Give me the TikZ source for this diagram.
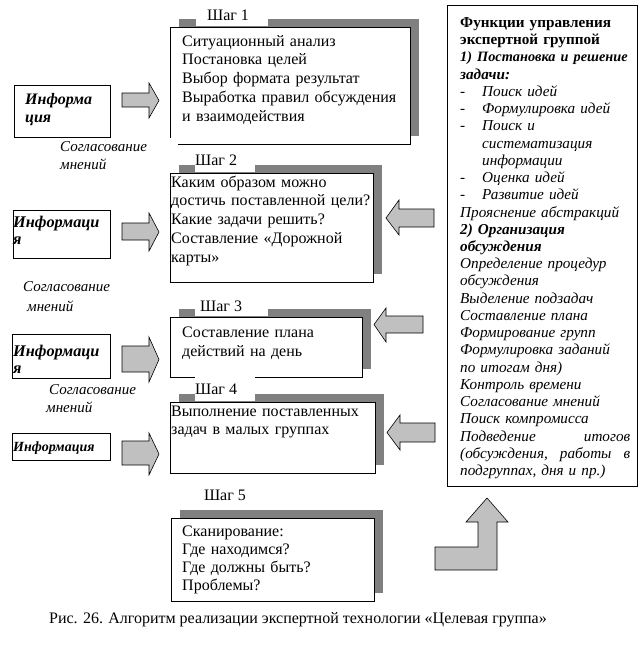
\documentclass[tikz,border=0pt]{standalone}
\usepackage{fontspec}
\setmainfont{Liberation Serif}
\usetikzlibrary{shadows}
\definecolor{shadowgray}{HTML}{808080}
\definecolor{arrowgray}{HTML}{C0C0C0}
\newcommand{\dashitem}[1]{\makebox[22pt][l]{-}#1}
\begin{document}
\begin{tikzpicture}[x=1pt,y=-1pt,
  stepframe/.style={draw=black, line width=0.9pt, fill=white, inner sep=0pt, anchor=north west,
    drop shadow={shadow xshift=8.5pt, shadow yshift=8pt, fill=shadowgray, opacity=1}},
  plainframe/.style={draw=black, line width=0.9pt, fill=white, inner sep=0pt, anchor=north west},
  boxtext/.style={anchor=base west, inner sep=0pt, align=left, text width=260pt, font=\fontsize{16}{18.75}\selectfont},
  infotext/.style={anchor=base west, inner sep=0pt, align=left, text width=100pt, font=\fontsize{16}{18}\selectfont\bfseries\itshape},
  agree/.style={anchor=base west, inner sep=0pt, align=left, text width=110pt, font=\fontsize{15}{18}\selectfont\itshape},
  steplabel/.style={fill=white, inner sep=0pt, anchor=south west, font=\fontsize{16}{18}\selectfont},
  paneltext/.style={anchor=base west, inner sep=0pt, align=left, text width=200pt, font=\fontsize{15.2}{17.23}\selectfont},
  blockarrow/.style={draw=black, line width=0.6pt, fill=arrowgray}
]
\useasboundingbox (0,0) rectangle (642,645);

% step frames
\node[stepframe, minimum width=240, minimum height=117] (s1) at (170,27) {};
\node[stepframe, minimum width=203, minimum height=109] (s2) at (170,173) {};
\node[stepframe, minimum width=192, minimum height=60] (s3) at (170,317) {};
\node[stepframe, minimum width=205, minimum height=71] (s4) at (170,402) {};
\node[stepframe, minimum width=203, minimum height=83] (s5) at (171,518) {};

% step labels
\node[steplabel, minimum width=72, minimum height=22] (l1) at (196,26.5) {\makebox[72pt][l]{\hspace{11pt}Шаг 1}};
\node[steplabel, minimum width=60, minimum height=24] (l2) at (195,172.5) {\makebox[60pt][l]{Шаг 2}};
\node[steplabel, minimum width=73, minimum height=20] (l3) at (195,316.5) {\makebox[73pt][l]{\hspace{5pt}Шаг 3}};
\node[steplabel, minimum width=60, minimum height=24] (l4) at (195,401.5) {\makebox[60pt][l]{Шаг 4}};
\node[steplabel, fill=none, anchor=center] (l5) at (225,495) {Шаг 5};

% step texts
\node[boxtext] (t1) at (182,46) {Ситуационный анализ\\Постановка целей\\Выбор формата результат\\Выработка правил обсуждения\\и взаимодействия};
\node[boxtext] (t2) at (171,187) {Каким образом можно\\достичь поставленной цели?\\Какие задачи решить?\\Составление «Дорожной\\карты»};
\node[boxtext, font=\fontsize{16}{19.5}\selectfont] (t3) at (182,337) {Составление плана\\действий на день};
\node[boxtext, font=\fontsize{16}{18}\selectfont] (t4) at (171,416) {Выполнение поставленных\\задач в малых группах};
\node[boxtext, font=\fontsize{16}{18.3}\selectfont] (t5) at (182,536) {Сканирование:\\Где находимся?\\Где должны быть?\\Проблемы?};

% information boxes
\node[plainframe, minimum width=96, minimum height=52] (i1) at (14,85) {};
\node[plainframe, minimum width=97, minimum height=48] (i2) at (13,210) {};
\node[plainframe, minimum width=98, minimum height=44] (i3) at (12,334) {};
\node[plainframe, minimum width=98, minimum height=27] (i4) at (12,433) {};
\node[infotext] (it1) at (25,104) {Информа\\ция};
\node[infotext, font=\fontsize{16.3}{17}\selectfont\bfseries\itshape] (it2) at (13,227) {Информаци\\я};
\node[infotext, font=\fontsize{16.3}{17}\selectfont\bfseries\itshape] (it3) at (13,356) {Информаци\\я};
\node[infotext, font=\fontsize{14}{16}\selectfont\bfseries\itshape] (it4) at (13,451) {Информация};

% agreement notes
\node[agree, fill=white, inner xsep=8pt, inner ysep=3pt] (c1) at (52,151) {Согласование\\мнений};
\node[agree, font=\fontsize{15}{20}\selectfont\itshape] (c2) at (23,291) {Согласование\\\hspace*{4pt}мнений};
\node[agree] (c3) at (46,394) {\hspace*{3pt}Согласование\\мнений};

% arrows from information to steps
\draw[blockarrow] (122,93) -- (149,93) -- (149,83) -- (159,100.5) -- (149,118) -- (149,107) -- (122,107) -- cycle;
\draw[blockarrow] (122,223) -- (149,223) -- (149,213) -- (159,232) -- (149,251) -- (149,240) -- (122,240) -- cycle;
\draw[blockarrow] (122,346) -- (149,346) -- (149,337) -- (159,359.5) -- (149,382) -- (149,372) -- (122,372) -- cycle;
\draw[blockarrow] (122,441) -- (149,441) -- (149,433) -- (159,454) -- (149,475) -- (149,465) -- (122,465) -- cycle;

% right panel
\node[plainframe, minimum width=190, minimum height=481] (panel) at (447,5) {};
\node[paneltext] (ptext) at (460,27.5) {%
{\bfseries Функции управления}\\
{\bfseries экспертной группой}\\
{\fontsize{14.3}{17.23}\selectfont\bfseries\itshape 1) Постановка и решение}\\
{\bfseries\itshape задачи:}\\
{\itshape\dashitem{Поиск идей}}\\
{\itshape\dashitem{Формулировка идей}}\\
{\itshape\dashitem{Поиск и}}\\
{\itshape\hspace*{22pt}систематизация}\\
{\itshape\hspace*{22pt}информации}\\
{\itshape\dashitem{Оценка идей}}\\
{\itshape\dashitem{Развитие идей}}\\
{\itshape Прояснение абстракций}\\
{\bfseries\itshape 2) Организация}\\
{\bfseries\itshape обсуждения}\\
{\itshape Определение процедур}\\
{\itshape обсуждения}\\
{\itshape Выделение подзадач}\\
{\itshape Составление плана}\\
{\itshape Формирование групп}\\
{\itshape Формулировка заданий}\\
{\itshape по итогам дня)}\\
{\itshape Контроль времени}\\
{\itshape Согласование мнений}\\
{\itshape Поиск компромисса}\\
\leavevmode{\itshape\hbox to 170pt{Подведение\hfill итогов}}\\
\leavevmode{\itshape\hbox to 170pt{(обсуждения,\hfill работы\hfill в}}\\
{\itshape подгруппах, дня и пр.)}};

% arrows from panel to steps
\draw[blockarrow] (434,209) -- (399,209) -- (399,200) -- (386,218) -- (399,235) -- (399,227) -- (434,227) -- cycle;
\draw[blockarrow] (423,316) -- (386,316) -- (386,308) -- (374,324.5) -- (386,342) -- (386,333) -- (423,333) -- cycle;
\draw[blockarrow] (435,423) -- (400,423) -- (400,415) -- (387,432.5) -- (400,450) -- (400,442) -- (435,442) -- cycle;

% bent arrow up to the panel
\draw[blockarrow] (435,547) -- (478,547) -- (478,522) -- (466,522) -- (487,498) -- (508,522) -- (497,522) -- (497,570) -- (435,570) -- cycle;

% caption
\node[anchor=base, inner sep=0pt, font=\fontsize{16}{18}\selectfont] (cap) at (298,623) {Рис. 26. Алгоритм реализации экспертной технологии «Целевая группа»};
\end{tikzpicture}
\end{document}
